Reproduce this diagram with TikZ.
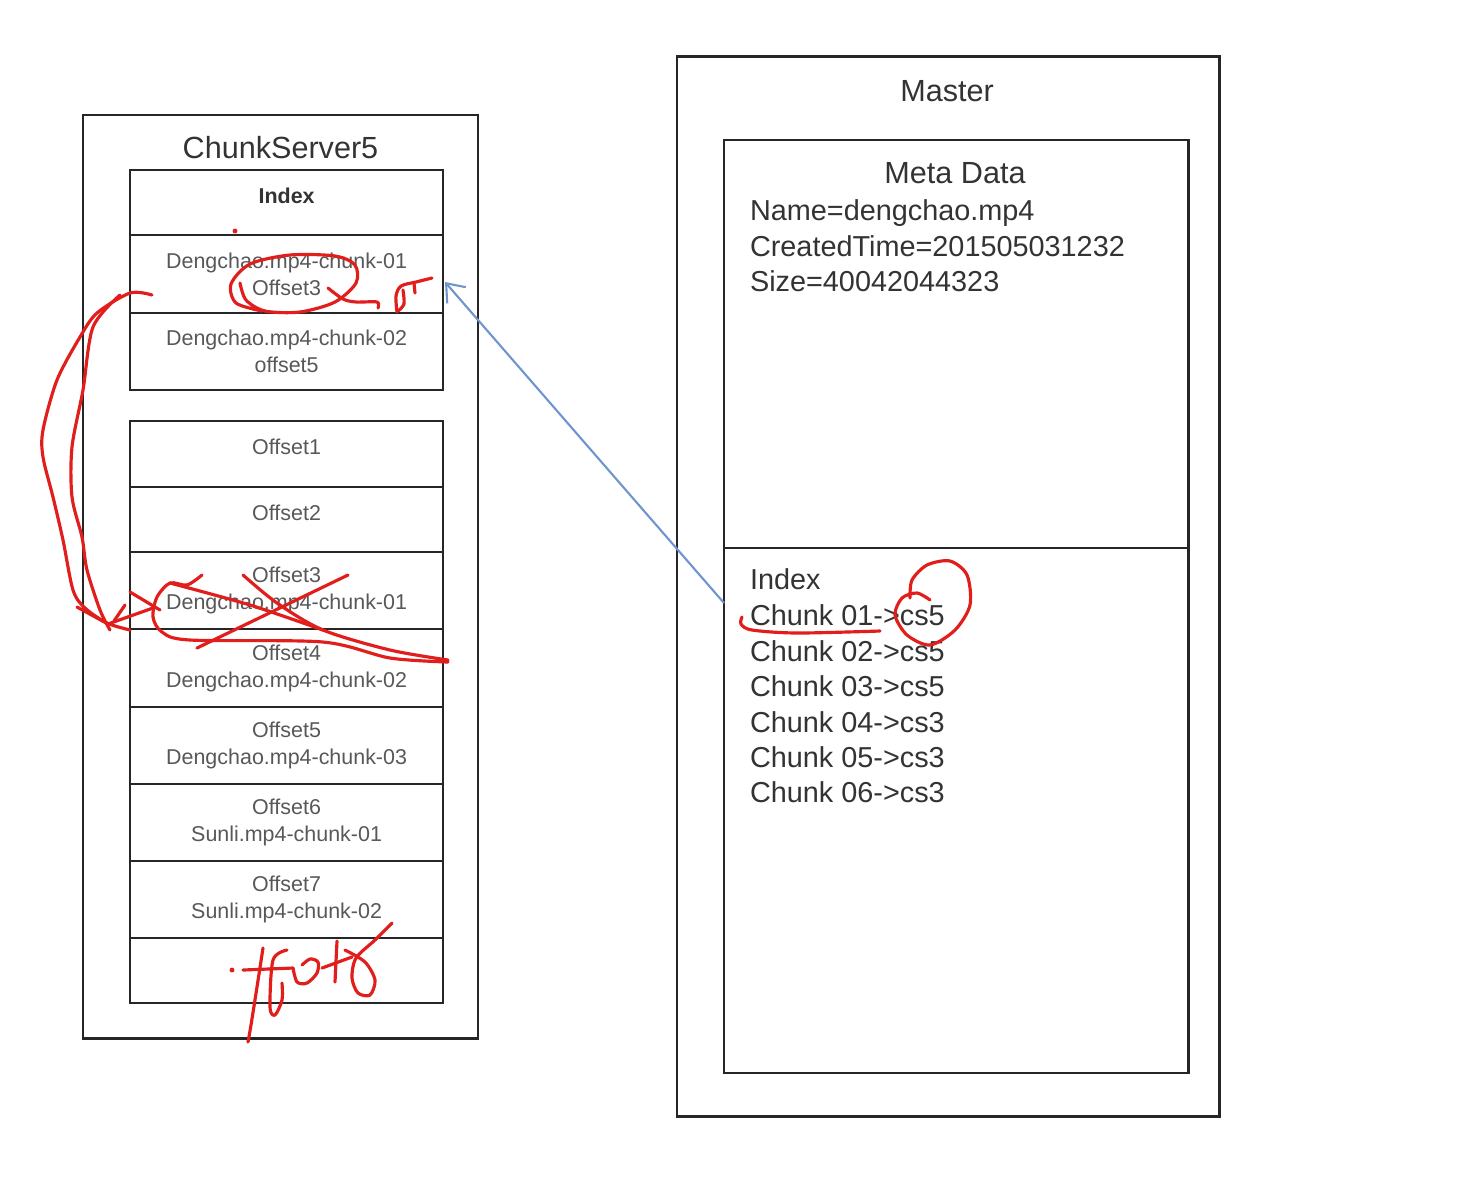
\documentclass[tikz,border=0pt]{standalone}
\usepackage{fontspec}
\setmainfont{Liberation Sans}
\usetikzlibrary{arrows.meta}
\definecolor{inkred}{RGB}{225,30,28}
\definecolor{linkblue}{RGB}{112,148,205}
\definecolor{textgray}{RGB}{88,88,88}
\begin{document}
\begin{tikzpicture}[x=0.01cm, y=-0.01cm, every node/.style={outer sep=0pt, inner sep=0pt},
        frame/.style={draw=black!85, line width=0.7pt, anchor=west},
        cell/.style={draw=black!85, line width=0.7pt, anchor=west, minimum width=3.13cm, align=center, text=textgray, font=\fontsize{6.1}{7.65}\selectfont},
        oneline/.style={text depth=0.14cm},
        title/.style={text=black!80, font=\fontsize{8.7}{10}\selectfont},
        entry/.style={anchor=base west, text=black!80, font=\fontsize{8.2}{10}\selectfont},
        link/.style={draw=linkblue, line width=0.6pt, -{Straight Barb[length=4.5pt, width=7pt]}},
        scribble/.style={draw=inkred, line width=0.9pt, line cap=round, line join=round}]
        \useasboundingbox (0,0) rectangle (1474,1178);

        % ChunkServer5
        \node[frame, minimum width=3.95cm, minimum height=9.23cm] (cs) at (83,576.5) {};
        \node[title] (cstitle) at (280.5,148) {ChunkServer5};
        \node[cell, oneline, minimum height=0.65cm, text=black!80] (idxhead) at (130,202.5) {\bfseries Index};
        \node[cell, minimum height=0.78cm] (idxr1) at (130,274) {Dengchao.mp4-chunk-01\\Offset3};
        \node[cell, minimum height=0.77cm] (idxr2) at (130,351.5) {Dengchao.mp4-chunk-02\\offset5};

        \node[cell, oneline, minimum height=0.66cm] (off1) at (130,454) {Offset1};
        \node[cell, oneline, minimum height=0.65cm] (off2) at (130,519.5) {Offset2};
        \node[cell, minimum height=0.77cm] (off3) at (130,590.5) {Offset3\\Dengchao.mp4-chunk-01};
        \node[cell, minimum height=0.78cm] (off4) at (130,668) {Offset4\\Dengchao.mp4-chunk-02};
        \node[cell, minimum height=0.77cm] (off5) at (130,745.5) {Offset5\\Dengchao.mp4-chunk-03};
        \node[cell, minimum height=0.77cm] (off6) at (130,822.5) {Offset6\\Sunli.mp4-chunk-01};
        \node[cell, minimum height=0.77cm] (off7) at (130,899.5) {Offset7\\Sunli.mp4-chunk-02};
        \node[cell, minimum height=0.65cm] (off8) at (130,970.5) {};

        % Master
        \node[frame, minimum width=5.42cm, minimum height=10.59cm] (master) at (677,586.5) {};
        \node[title] (mtitle) at (947,91) {Master};
        \node[frame, minimum width=4.64cm, minimum height=4.08cm] (metabox) at (724,344) {};
        \node[frame, minimum width=4.64cm, minimum height=5.25cm] (indexbox) at (724,810.5) {};
        \node[title] (metatitle) at (955,173) {Meta Data};
        \node[entry] (name) at (750,220) {Name=dengchao.mp4};
        \node[entry] (ctime) at (750,256) {CreatedTime=201505031232};
        \node[entry] (size) at (750,291) {Size=40042044323};
        \node[entry] (mindex) at (750,589) {Index};
        \node[entry] (chunk1) at (750,625) {Chunk 01->cs5};
        \node[entry] (chunk2) at (750,661) {Chunk 02->cs5};
        \node[entry] (chunk3) at (750,696) {Chunk 03->cs5};
        \node[entry] (chunk4) at (750,732) {Chunk 04->cs3};
        \node[entry] (chunk5) at (750,767) {Chunk 05->cs3};
        \node[entry] (chunk6) at (750,802) {Chunk 06->cs3};

        % blue pointer
        \coordinate (src) at (724,603);
        \coordinate (dst) at (445,282);
        \draw[link] (src) -- (dst);

        % red pen marks
        \fill[inkred] (235,231) circle (0.7pt);
        \draw[scribble] plot[smooth] coordinates {(240,283) (246,300) (265,311) (300,312) (335,302) (356,283) (355,265) (335,256) (290,255) (250,264) (231,284) (236,303) (262,311)};
        \draw[scribble] plot[smooth] coordinates {(328,288) (343,299) (356,302) (377,302) (378,308)};
        \draw[scribble] plot[smooth] coordinates {(397,312) (396,296) (401,286) (416,282) (432,278)};
        \draw[scribble] plot[smooth] coordinates {(403,290) (404,304) (398,311)};
        \draw[scribble] (414,283) -- (415,293);

        \draw[scribble] plot[smooth] coordinates {(152,295) (130,293) (97,313) (80,337) (57,380) (43,430) (43,457) (53,497) (63,540) (73,590) (85,608) (107,623) (130,630)};
        \draw[scribble] plot[smooth] coordinates {(120,295) (93,327) (83,390) (72,447) (72,497) (82,537) (87,570) (100,610) (110,630)};
        \draw[scribble] (77,607) -- (108,624) -- (153,608);
        \draw[scribble] (125,605) -- (114,621);

        \draw[scribble] plot[smooth] coordinates {(243,575) (277,603) (323,630) (390,650) (448,660)};
        \draw[scribble] (348,575) -- (197,648);
        \draw[scribble] plot[smooth] coordinates {(202,575) (187,585) (170,583) (157,597) (153,617) (162,632) (190,640) (323,642) (390,658) (448,662)};
        \draw[scribble] plot[smooth] coordinates {(170,583) (250,605) (323,630)};
        \draw[scribble] (130,592) -- (160,610);

        \fill[inkred] (232,970) circle (0.7pt);
        \draw[scribble] plot[smooth] coordinates {(263,948) (257,987) (251,1025) (248,1042)};
        \draw[scribble] (243,970) -- (293,968);
        \draw[scribble] plot[smooth] coordinates {(287,950) (273,960) (270,1007) (275,1015) (282,1000) (282,983)};
        \draw[scribble] plot[smooth] coordinates {(293,968) (297,982) (307,983) (317,973) (318,962) (310,959) (302,965)};
        \draw[scribble] (337,941) -- (335,982);
        \draw[scribble] (322,968) -- (352,957);
        \draw[scribble] plot[smooth] coordinates {(392,923) (375,940) (356,958) (352,978) (358,993) (370,995) (375,980) (365,962) (345,950)};

        \draw[scribble] plot[smooth] coordinates {(742,617) (741,624) (752,630) (797,633) (880,631)};
        \draw[scribble] plot[smooth] coordinates {(910,598) (912,580) (927,565) (950,561) (967,575) (970,605) (955,630) (930,645) (907,635) (895,615) (902,598) (917,593) (930,600)};
\end{tikzpicture}
\end{document}
